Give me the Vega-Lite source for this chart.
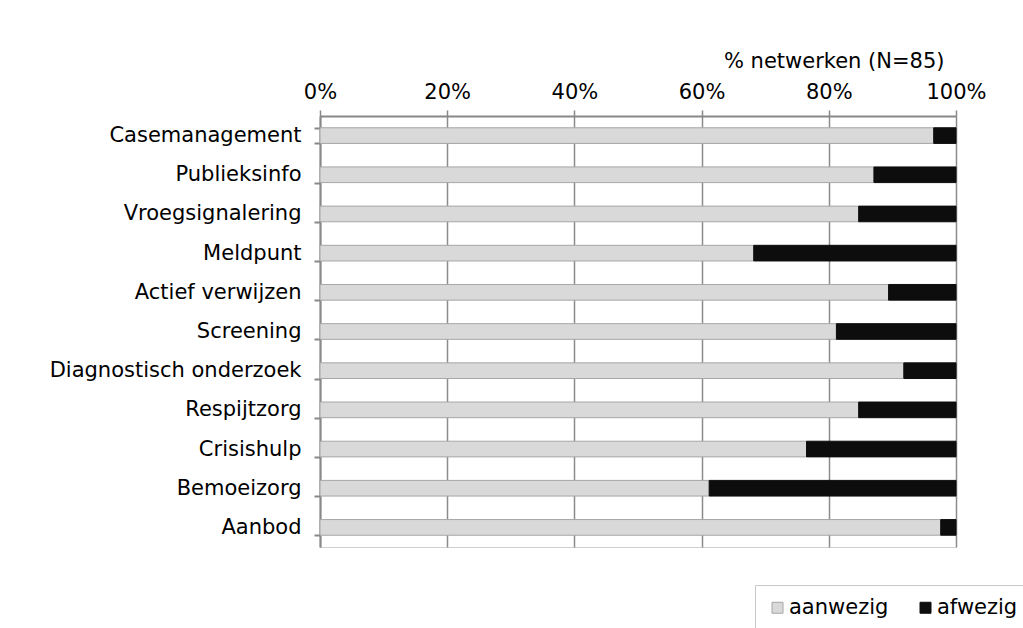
{
  "$schema": "https://vega.github.io/schema/vega-lite/v6.json",
  "width": 636,
  "height": 431,
  "autosize": {"type": "none"},
  "padding": {"left": 320, "top": 116, "right": 67, "bottom": 81},
  "background": "white",
  "config": {
    "font": "DejaVu Sans",
    "view": {"stroke": "#d0d0d0", "strokeWidth": 1}
  },
  "data": {
    "values": [
      {"item": "Casemanagement", "status": "aanwezig", "pct": 0.965},
      {"item": "Casemanagement", "status": "afwezig", "pct": 0.035},
      {"item": "Publieksinfo", "status": "aanwezig", "pct": 0.871},
      {"item": "Publieksinfo", "status": "afwezig", "pct": 0.129},
      {"item": "Vroegsignalering", "status": "aanwezig", "pct": 0.847},
      {"item": "Vroegsignalering", "status": "afwezig", "pct": 0.153},
      {"item": "Meldpunt", "status": "aanwezig", "pct": 0.682},
      {"item": "Meldpunt", "status": "afwezig", "pct": 0.318},
      {"item": "Actief verwijzen", "status": "aanwezig", "pct": 0.894},
      {"item": "Actief verwijzen", "status": "afwezig", "pct": 0.106},
      {"item": "Screening", "status": "aanwezig", "pct": 0.812},
      {"item": "Screening", "status": "afwezig", "pct": 0.188},
      {"item": "Diagnostisch onderzoek", "status": "aanwezig", "pct": 0.918},
      {"item": "Diagnostisch onderzoek", "status": "afwezig", "pct": 0.082},
      {"item": "Respijtzorg", "status": "aanwezig", "pct": 0.847},
      {"item": "Respijtzorg", "status": "afwezig", "pct": 0.153},
      {"item": "Crisishulp", "status": "aanwezig", "pct": 0.765},
      {"item": "Crisishulp", "status": "afwezig", "pct": 0.235},
      {"item": "Bemoeizorg", "status": "aanwezig", "pct": 0.612},
      {"item": "Bemoeizorg", "status": "afwezig", "pct": 0.388},
      {"item": "Aanbod ", "status": "aanwezig", "pct": 0.976},
      {"item": "Aanbod ", "status": "afwezig", "pct": 0.024}
    ]
  },
  "mark": {"type": "bar", "strokeWidth": 1},
  "encoding": {
    "y": {
      "field": "item",
      "type": "nominal",
      "sort": null,
      "scale": {"paddingInner": 0.6, "paddingOuter": 0.3},
      "axis": {
        "title": null,
        "tickBand": "extent",
        "domainColor": "#888888",
        "domainWidth": 2,
        "tickColor": "#888888",
        "tickWidth": 2,
        "tickSize": 6,
        "labelPadding": 13,
        "labelFontSize": 21,
        "labelLimit": 0,
        "labelColor": "#000000",
        "labelFont": "DejaVu Sans",
        "grid": false
      }
    },
    "x": {
      "field": "pct",
      "type": "quantitative",
      "stack": "zero",
      "scale": {"domain": [0, 1], "nice": false},
      "axis": {
        "orient": "top",
        "values": [0, 0.2, 0.4, 0.6, 0.8, 1],
        "format": ".0%",
        "labelFlush": false,
        "title": "% netwerken (N=85)",
        "titleFontSize": 21,
        "titleFontWeight": "normal",
        "titleColor": "#000000",
        "titleFont": "DejaVu Sans",
        "titleAlign": "right",
        "titleAnchor": "end",
        "titleX": 624,
        "titleY": -49,
        "titleBaseline": "alphabetic",
        "grid": true,
        "gridColor": "#8c8c8c",
        "gridWidth": 1.5,
        "domainColor": "#888888",
        "domainWidth": 2,
        "tickColor": "#888888",
        "tickWidth": 1.5,
        "tickSize": 6,
        "labelPadding": 8,
        "labelFontSize": 21,
        "labelColor": "#000000",
        "labelFont": "DejaVu Sans"
      }
    },
    "color": {
      "field": "status",
      "type": "nominal",
      "scale": {"domain": ["aanwezig", "afwezig"], "range": ["#d9d9d9", "#0d0d0d"]},
      "legend": {
        "title": null,
        "orient": "none",
        "legendX": 435,
        "legendY": 469,
        "direction": "horizontal",
        "symbolType": "square",
        "symbolSize": 121,
        "symbolStrokeWidth": 1,
        "labelFontSize": 21,
        "labelFont": "DejaVu Sans",
        "labelColor": "#000000",
        "labelOffset": 1,
        "columnPadding": 26,
        "strokeColor": "#c8c8c8",
        "padding": 12
      }
    },
    "stroke": {
      "field": "status",
      "type": "nominal",
      "scale": {"domain": ["aanwezig", "afwezig"], "range": ["#a6a6a6", "#0d0d0d"]},
      "legend": null
    }
  }
}
